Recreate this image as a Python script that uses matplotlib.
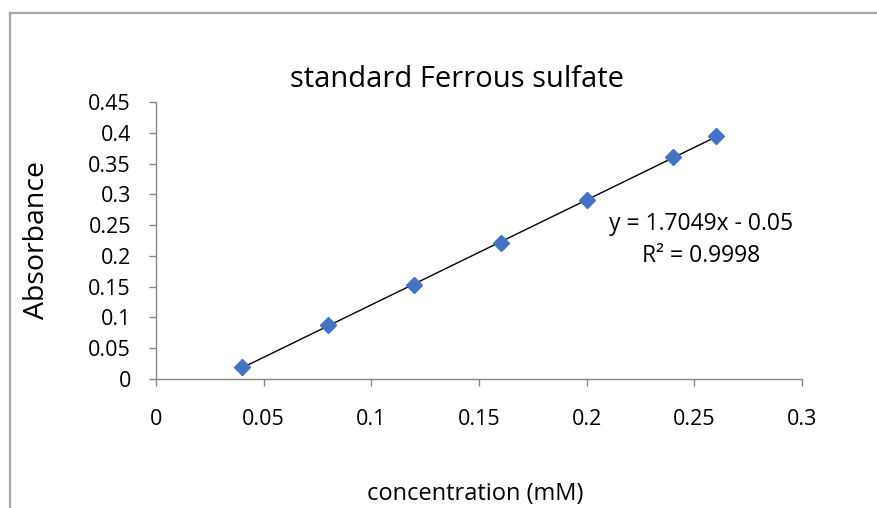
import matplotlib
matplotlib.use("Agg")
import matplotlib.pyplot as plt
from matplotlib.lines import Line2D
import numpy as np

concentration = [0.04, 0.08, 0.12, 0.16, 0.20, 0.24, 0.26]
absorbance = [0.020, 0.088, 0.152, 0.221, 0.290, 0.361, 0.395]
slope = 1.7049
intercept = -0.05
r_squared = 0.9998
x_ticks = [0, 0.05, 0.1, 0.15, 0.2, 0.25, 0.3]
x_tick_labels = ["0", "0.05", "0.1", "0.15", "0.2", "0.25", "0.3"]
y_ticks = [0, 0.05, 0.1, 0.15, 0.2, 0.25, 0.3, 0.35, 0.4, 0.45]
y_tick_labels = ["0", "0.05", "0.1", "0.15", "0.2", "0.25", "0.3", "0.35", "0.4", "0.45"]

plt.rcParams['font.family'] = ['Open Sans', 'DejaVu Sans']

W, H = 878, 508
fig = plt.figure(figsize=(W / 100, H / 100), dpi=100)
ax = fig.add_axes([156 / W, 1 - 379 / H, (802 - 156) / W, (379 - 102) / H])

# trendline
xs = np.array([min(concentration), max(concentration)])
ax.plot(xs, slope * xs + intercept, color='black', lw=1.0, zorder=2)
ax.plot(concentration, absorbance, linestyle='none', marker='D', markersize=8.5,
        color='#4472C4', zorder=3)

ax.set_xlim(0, 0.3)
ax.set_ylim(0, 0.45)
ax.set_xticks(x_ticks)
ax.set_xticklabels(x_tick_labels)
ax.set_yticks(y_ticks)
ax.set_yticklabels(y_tick_labels)
for s in ['top', 'right']:
    ax.spines[s].set_visible(False)
for s in ['left', 'bottom']:
    ax.spines[s].set_color('#868686')
    ax.spines[s].set_linewidth(1.0)
ax.tick_params(axis='both', colors='#868686', labelcolor='black', length=5,
               width=1.0, labelsize=15.5)
ax.tick_params(axis='x', pad=16.5)
ax.tick_params(axis='y', pad=13)

fig.text(457 / W, 1 - 80 / H, "standard Ferrous sulfate", ha='center', va='center',
         fontsize=21)
fig.text(37 / W, 1 - 240 / H, "Absorbance", ha='center', va='center',
         rotation=90, fontsize=20.5)
fig.text(475 / W, 1 - 494 / H, "concentration (mM)", ha='center', va='center',
         fontsize=17)
fig.text(701 / W, 1 - 224 / H, f"y = {slope}x - {abs(intercept):.2f}", ha='center',
         va='center', fontsize=16.5)
fig.text(701 / W, 1 - 256 / H, f"R² = {r_squared}", ha='center', va='center',
         fontsize=16.5)

# outer chart frame
frame_col = '#a6a6a6'
fig.add_artist(Line2D([10 / W, 10 / W], [0, 1 - 13 / H], transform=fig.transFigure,
                      color=frame_col, lw=1.6))
fig.add_artist(Line2D([10 / W, 1], [1 - 13 / H, 1 - 13 / H], transform=fig.transFigure,
                      color=frame_col, lw=1.6))

fig.savefig("out.png", dpi=100)
